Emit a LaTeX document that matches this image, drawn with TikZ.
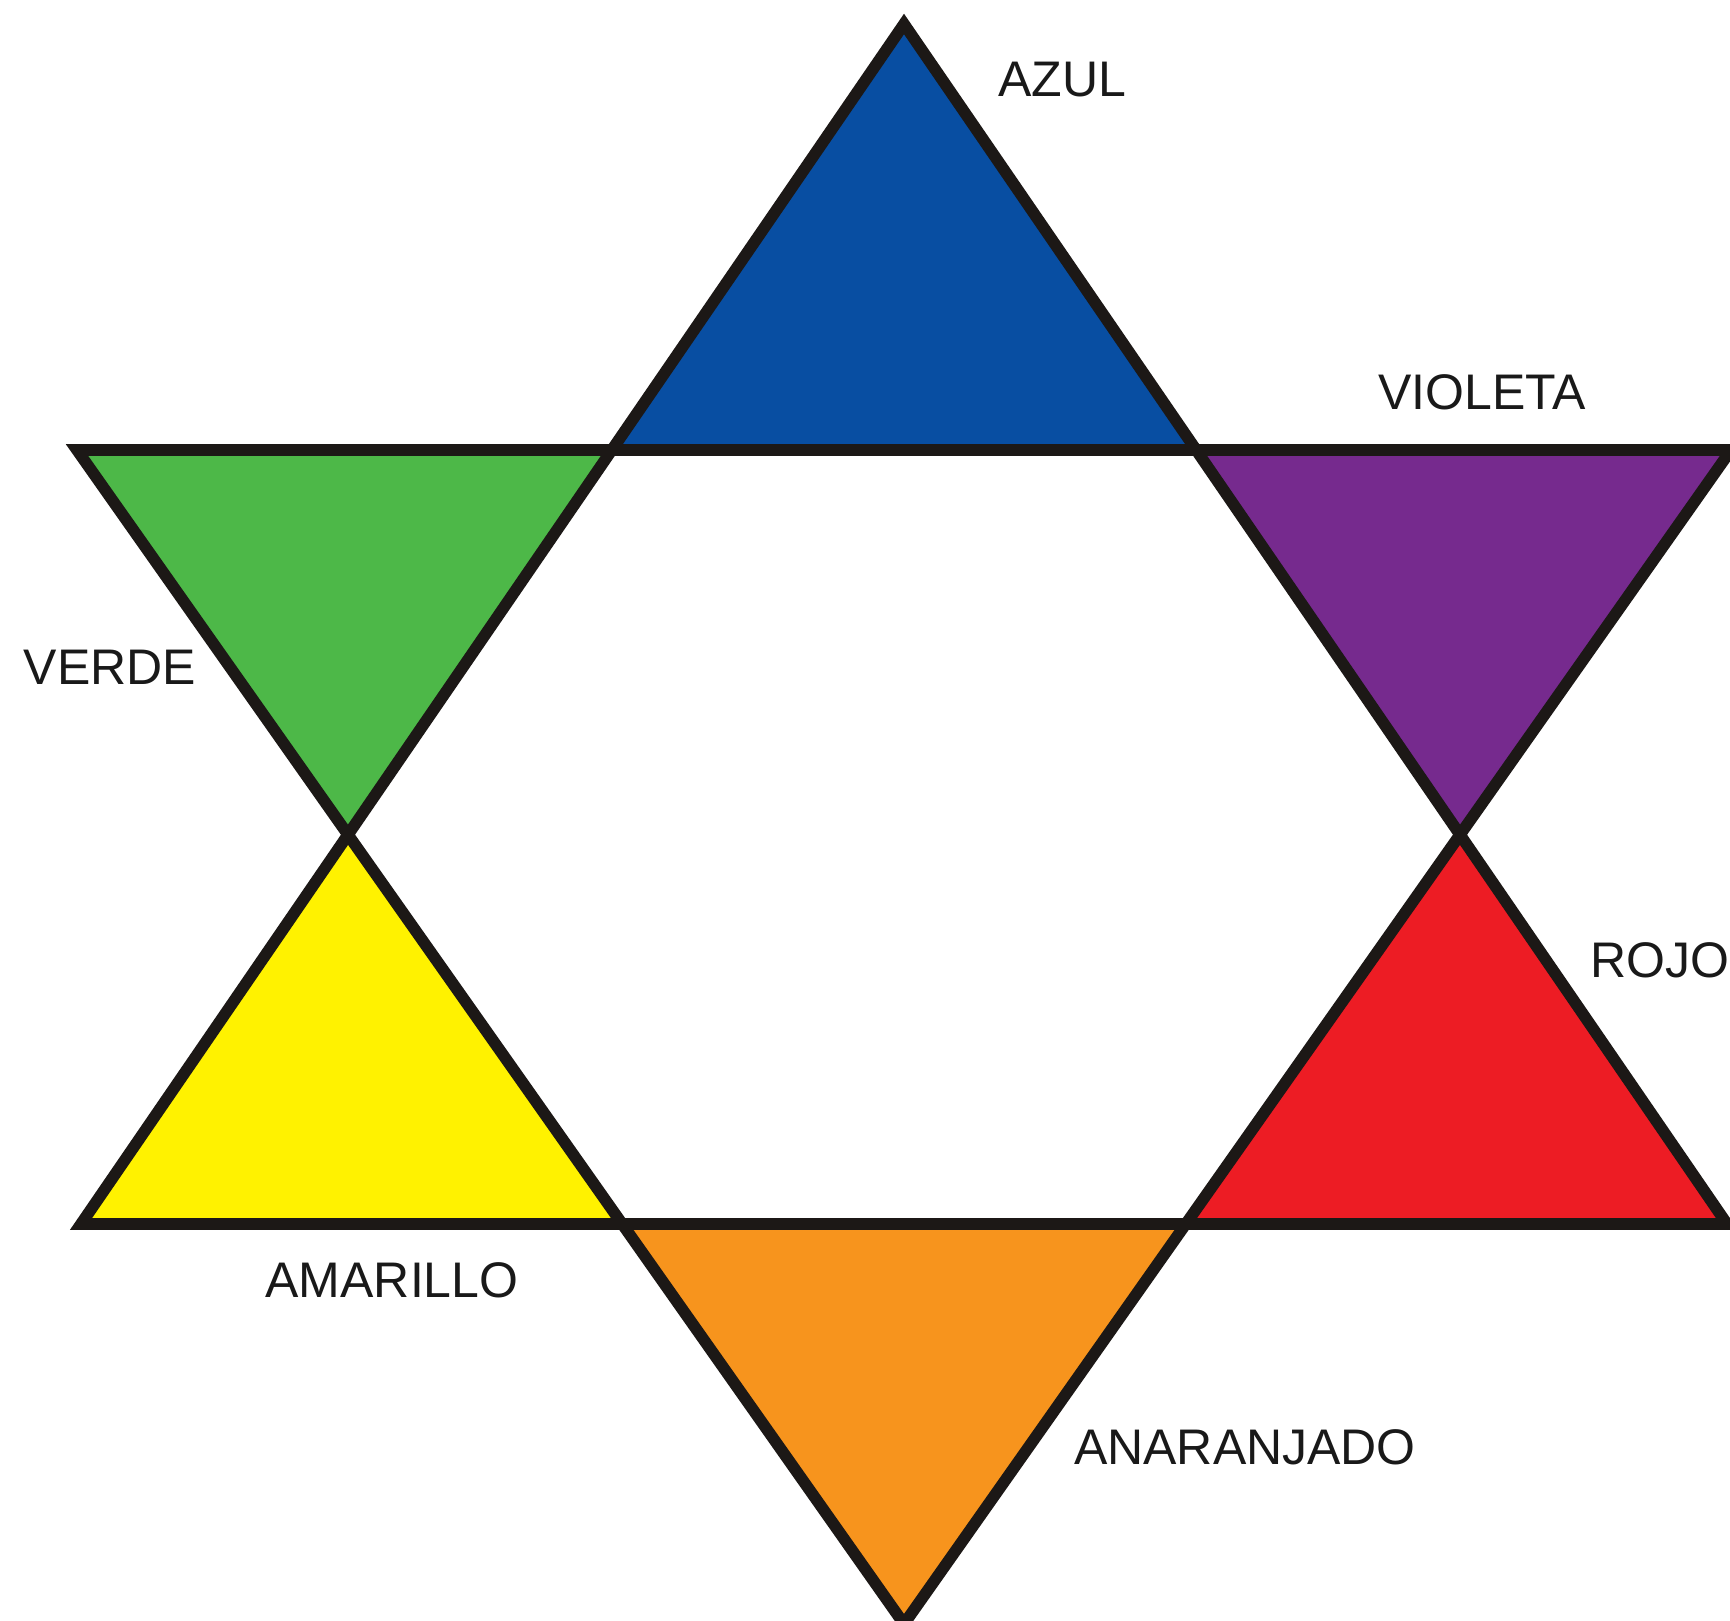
\documentclass[tikz,border=0pt]{standalone}
\usepackage{fontspec}
\setmainfont{Liberation Sans}
\definecolor{cblue}{RGB}{8,78,162}
\definecolor{cgreen}{RGB}{77,184,72}
\definecolor{cviolet}{RGB}{118,42,142}
\definecolor{cred}{RGB}{237,28,36}
\definecolor{cyellow}{RGB}{255,242,0}
\definecolor{corange}{RGB}{247,148,29}
\definecolor{cedge}{RGB}{28,24,22}
\begin{document}
\begin{tikzpicture}[x=0.5pt,y=-0.5pt,
  lbl/.style={font=\fontsize{25}{30}\selectfont, inner sep=0pt, text=black!90},
  edgeline/.style={draw=cedge, line width=5.8pt, line join=miter}]
\useasboundingbox[fill=white] (0,0) rectangle (1730,1621);
\clip (0,0) rectangle (1730,1621);
% big triangles
\coordinate (A) at (904,24);
\coordinate (B) at (81,1224);
\coordinate (C) at (1727,1224);
\coordinate (D) at (77,450);
\coordinate (E) at (1731,450);
\coordinate (F) at (904,1624);
% hexagon corners
\coordinate (ul) at (intersection of A--B and D--E);
\coordinate (ur) at (intersection of A--C and D--E);
\coordinate (ml) at (intersection of A--B and D--F);
\coordinate (mr) at (intersection of A--C and E--F);
\coordinate (ll) at (intersection of B--C and D--F);
\coordinate (lr) at (intersection of B--C and E--F);
% coloured points
\fill[cblue] (A) -- (ul) -- (ur) -- cycle;
\fill[cgreen] (D) -- (ul) -- (ml) -- cycle;
\fill[cviolet] (E) -- (ur) -- (mr) -- cycle;
\fill[cyellow] (B) -- (ml) -- (ll) -- cycle;
\fill[cred] (C) -- (mr) -- (lr) -- cycle;
\fill[corange] (F) -- (ll) -- (lr) -- cycle;
% outlines
\draw[edgeline] (A) -- (B) -- (C) -- cycle;
\draw[edgeline] (D) -- (E) -- (F) -- cycle;
% labels
\node[lbl] (azul) at (1062,80) {AZUL};
\node[lbl] (violeta) at (1482,392) {VIOLETA};
\node[lbl] (verde) at (110,667) {VERDE};
\node[lbl] (rojo) at (1660,960) {ROJO};
\node[lbl] (amarillo) at (392,1280) {AMARILLO};
\node[lbl] (anaranjado) at (1245,1447) {ANARANJADO};
\end{tikzpicture}
\end{document}
